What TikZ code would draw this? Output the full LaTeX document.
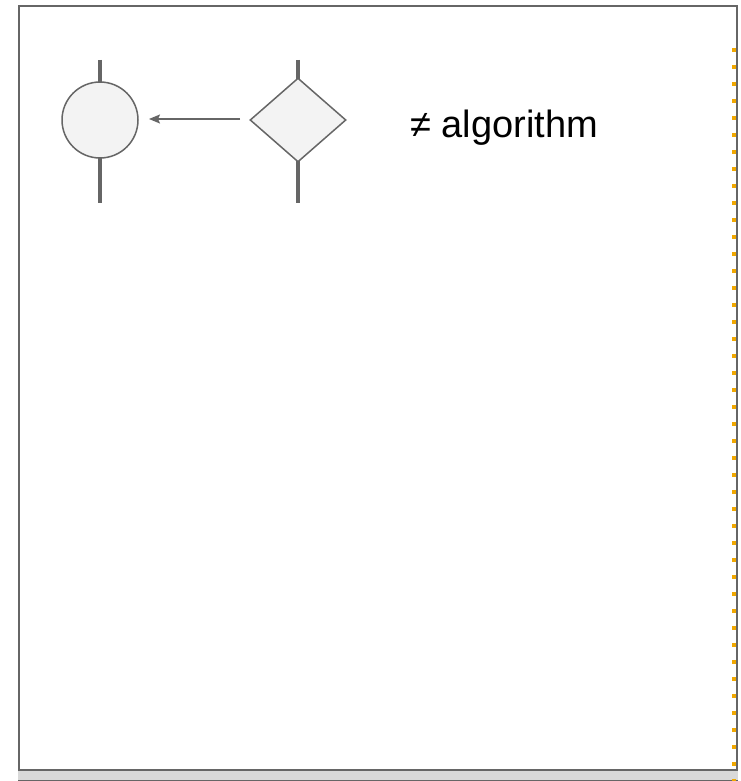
\documentclass[tikz,border=0pt]{standalone}
\usepackage{fontspec}
\setmainfont{Liberation Sans}
\usetikzlibrary{shapes.geometric, arrows.meta}
\definecolor{linegray}{HTML}{666666}
\definecolor{fillgray}{HTML}{F3F3F3}
\definecolor{dotorange}{HTML}{F1A800}
\tikzstyle{roundnode}=[shape=circle,minimum size=76pt,inner sep=0,line width=1.5pt,draw=linegray,fill=fillgray]
\tikzstyle{choicenode}=[shape=diamond,minimum width=96pt,minimum height=84pt,inner sep=0,line width=1.5pt,draw=linegray,fill=fillgray]
\tikzstyle{stem}=[linegray,line width=4pt]
\tikzstyle{arrow}=[linegray,line width=1.5pt,-{Stealth[length=11pt,width=9pt,inset=2pt]}]

\begin{document}
\begin{tikzpicture}[x=1pt,y=-1pt]
\useasboundingbox (0,0) rectangle (740,781);
\fill[white] (0,0) rectangle (740,781);
% frame
\fill[gray!30] (18,770) rectangle (738,780);
\draw[linegray,line width=1pt] (18,780.5)--(738,780.5);
\draw[linegray,line width=2pt] (19,6) rectangle (737,770);
\draw[dotorange,line width=4pt,dash pattern=on 4pt off 13pt] (734,48)--(734,781);

\coordinate (ctop) at (100,60);
\coordinate (cbot) at (100,203);
\coordinate (dtop) at (298,60);
\coordinate (dbot) at (298,203);
\draw[stem] (ctop)--(cbot);
\draw[stem] (dtop)--(dbot);
\node[roundnode] (task) at (100,120) {};
\node[choicenode] (gate) at (298,120) {};
\coordinate (tail) at (240,119);
\coordinate (head) at (149,119);
\draw[arrow] (tail)--(head);
\node[anchor=base west,font=\fontsize{38pt}{44pt}\selectfont,inner sep=0] (label) at (410,138) {≠ algorithm};
\end{tikzpicture}
\end{document}
